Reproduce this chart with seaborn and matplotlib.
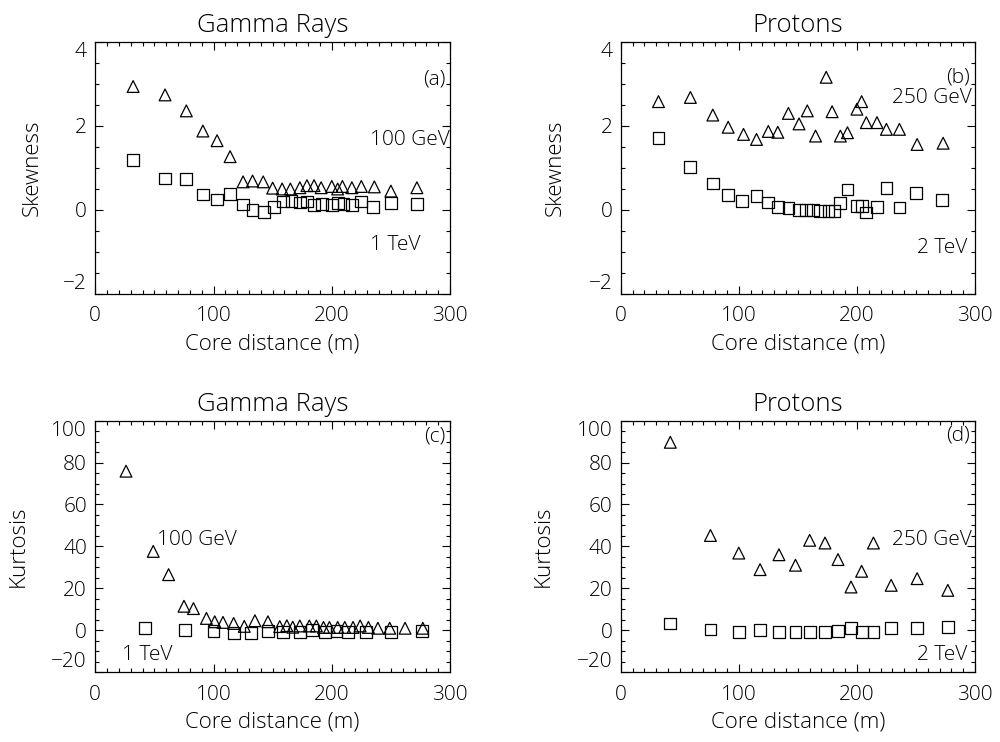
import seaborn as sns
import matplotlib.pyplot as plt
from matplotlib.ticker import MultipleLocator

# ── Data ──────────────────────────────────────────────────────────────────────
# (a) gamma rays, skewness
ga_tri_x = [32, 59, 77, 91, 103, 114, 125, 133, 142, 150, 158, 165, 173, 179,
            185, 191, 200, 205, 209, 217, 225, 236, 250, 272]
ga_tri_y = [2.94, 2.74, 2.36, 1.88, 1.65, 1.27, 0.67, 0.69, 0.67, 0.52, 0.50,
            0.50, 0.53, 0.58, 0.58, 0.53, 0.56, 0.50, 0.56, 0.53, 0.56, 0.55,
            0.45, 0.53]
ga_sq_x = [32, 59, 77, 91, 103, 114, 125, 133, 143, 151, 159, 166, 173, 179,
           185, 192, 200, 205, 210, 217, 225, 235, 250, 272]
ga_sq_y = [1.19, 0.75, 0.73, 0.37, 0.25, 0.38, 0.13, 0.00, -0.04, 0.08, 0.20,
           0.22, 0.18, 0.20, 0.12, 0.14, 0.12, 0.16, 0.14, 0.12, 0.20, 0.08,
           0.16, 0.14]

# (b) protons, skewness
pb_tri_x = [32, 59, 78, 91, 104, 115, 125, 133, 142, 151, 158, 165, 174, 179,
            186, 192, 200, 204, 208, 217, 225, 236, 251, 273]
pb_tri_y = [2.58, 2.68, 2.26, 1.97, 1.80, 1.68, 1.87, 1.85, 2.30, 2.05, 2.36,
            1.76, 3.16, 2.34, 1.76, 1.84, 2.40, 2.58, 2.08, 2.08, 1.92, 1.92,
            1.56, 1.59]
pb_sq_x = [32, 59, 78, 91, 103, 115, 125, 133, 142, 151, 157, 163, 169, 176,
           181, 186, 192, 200, 204, 208, 217, 225, 236, 250, 272]
pb_sq_y = [1.71, 1.03, 0.63, 0.36, 0.21, 0.33, 0.18, 0.08, 0.04, 0.00, 0.00,
           0.00, -0.02, -0.02, -0.02, 0.16, 0.49, 0.10, 0.10, -0.06, 0.08,
           0.52, 0.06, 0.41, 0.24]

# (c) gamma rays, kurtosis
gc_tri_x = [26, 49, 62, 75, 83, 94, 101, 108, 117, 126, 135, 146, 156, 162,
            167, 173, 181, 187, 193, 198, 205, 211, 218, 224, 231, 239, 249,
            262, 277]
gc_tri_y = [75.9, 37.6, 26.5, 11.4, 10.3, 5.6, 4.0, 3.7, 3.2, 1.8, 4.5, 4.0,
            1.7, 2.1, 1.4, 2.0, 2.0, 2.0, 1.3, 1.3, 1.3, 1.3, 1.3, 2.0, 1.3,
            0.9, 0.9, 0.9, 0.9]
gc_sq_x = [42, 76, 100, 117, 132, 146, 159, 173, 183, 194, 204, 214, 229, 250, 276]
gc_sq_y = [1.1, 0.0, -0.5, -1.3, -1.3, -0.3, -0.8, -0.8, 0.0, -0.8, -0.3,
           -0.8, -0.8, -0.8, -0.3]

# (d) protons, kurtosis
pd_tri_x = [42, 76, 100, 118, 134, 148, 160, 173, 184, 195, 204, 214, 229, 251, 277]
pd_tri_y = [89.7, 45.2, 36.8, 28.9, 36.0, 31.0, 42.9, 41.6, 33.7, 20.6, 28.1,
            41.6, 21.4, 24.6, 19.0]
pd_sq_x = [42, 76, 100, 118, 134, 148, 160, 173, 184, 195, 204, 214, 229, 251, 277]
pd_sq_y = [3.2, 0.3, -0.8, 0.0, -0.8, -0.8, -0.8, -0.8, -0.5, 1.1, -0.8,
           -0.8, 1.1, 1.1, 1.6]

x_ticks = [0, 100, 200, 300]
skew_ticks = [-2, 0, 2, 4]
kurt_ticks = [-20, 0, 20, 40, 60, 80, 100]

# ── Style ─────────────────────────────────────────────────────────────────────
sns.set_style("ticks", {"xtick.direction": "in", "ytick.direction": "in"})
plt.rcParams["font.family"] = ["Open Sans", "DejaVu Sans"]
plt.rcParams["font.weight"] = "light"
for key in ["text.color", "axes.labelcolor", "xtick.color", "ytick.color",
            "axes.edgecolor"]:
    plt.rcParams[key] = "black"
plt.rcParams["axes.linewidth"] = 0.9

FS = 15
MS = 72  # marker area, pt^2


def draw_panel(ax, tri_x, tri_y, sq_x, sq_y, title, ylabel, yticks, yminor,
               letter, letter_y, hi_label, hi_xy, lo_label, lo_xy, ylab_x):
    common = dict(s=MS, color="black", facecolor="none", edgecolor="black",
                  linewidth=0.9, ax=ax, zorder=3, clip_on=False)
    sns.scatterplot(x=tri_x, y=tri_y, marker="^", **common)
    sns.scatterplot(x=sq_x, y=sq_y, marker="s", **common)

    ax.set_xlim(0, 300)
    ax.set_ylim(yticks[0], yticks[-1])
    ax.set_xticks(x_ticks)
    ax.set_yticks(yticks)
    ax.xaxis.set_minor_locator(MultipleLocator(10))
    ax.yaxis.set_minor_locator(MultipleLocator(yminor))
    ax.tick_params(which="both", direction="in", top=True, right=True,
                   color="black", width=0.8)
    ax.tick_params(which="major", length=6)
    ax.tick_params(which="minor", length=3)
    ax.tick_params(axis="x", labelsize=FS, pad=9)
    ax.tick_params(axis="y", labelsize=FS, pad=6)

    # IDL keeps the end labels inside the axis range
    labels = ax.get_yticklabels()
    labels[0].set_va("bottom")
    labels[-1].set_va("top")

    ax.set_title(title, fontsize=18.5, pad=7, fontweight="light")
    ax.set_xlabel("Core distance (m)", fontsize=FS + 1, va="center",
                  fontweight="light")
    ax.xaxis.set_label_coords(0.5, -0.2)
    ax.set_ylabel(ylabel, fontsize=FS + 1, va="center", fontweight="light")
    ax.yaxis.set_label_coords(ylab_x, 0.5)

    ax.text(296, letter_y, letter, fontsize=FS, ha="right", va="center")
    ax.text(hi_xy[0], hi_xy[1], hi_label, fontsize=FS, ha="left", va="center",
            clip_on=False)
    ax.text(lo_xy[0], lo_xy[1], lo_label, fontsize=FS, ha="left", va="center",
            clip_on=False)


fig = plt.figure(figsize=(10, 7.42), dpi=100)
ax_a = fig.add_axes([0.0953, 0.6038, 0.3547, 0.3396])
ax_b = fig.add_axes([0.6207, 0.6038, 0.3543, 0.3396])
ax_c = fig.add_axes([0.0953, 0.0943, 0.3547, 0.3387])
ax_d = fig.add_axes([0.6207, 0.0943, 0.3543, 0.3387])

draw_panel(ax_a, ga_tri_x, ga_tri_y, ga_sq_x, ga_sq_y, "Gamma Rays", "Skewness",
           skew_ticks, 0.5, "(a)", 3.1, "100 GeV", (232, 1.67), "1 TeV",
           (232, -0.83), -0.178)
draw_panel(ax_b, pb_tri_x, pb_tri_y, pb_sq_x, pb_sq_y, "Protons", "Skewness",
           skew_ticks, 0.5, "(b)", 3.15, "250 GeV", (230, 2.66), "2 TeV",
           (251, -0.9), -0.185)
draw_panel(ax_c, gc_tri_x, gc_tri_y, gc_sq_x, gc_sq_y, "Gamma Rays", "Kurtosis",
           kurt_ticks, 5, "(c)", 92.5, "100 GeV", (52, 42.9), "1 TeV",
           (22.5, -11.9), -0.218)
draw_panel(ax_d, pd_tri_x, pd_tri_y, pd_sq_x, pd_sq_y, "Protons", "Kurtosis",
           kurt_ticks, 5, "(d)", 93, "250 GeV", (230, 42.9), "2 TeV",
           (251, -11.9), -0.219)

fig.savefig("out.png", dpi=100)
